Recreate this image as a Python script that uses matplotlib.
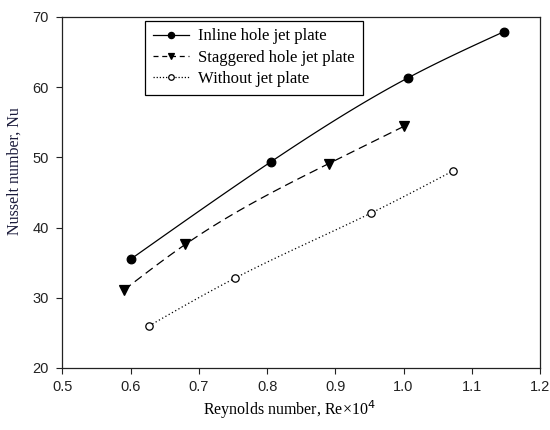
import numpy as np
import matplotlib
matplotlib.use("Agg")
import matplotlib.pyplot as plt

inline_x = [0.600, 0.806, 1.006, 1.147]
inline_y = [35.5, 49.4, 61.3, 67.9]
stag_x = [0.590, 0.680, 0.890, 1.000]
stag_y = [31.1, 37.6, 49.1, 54.4]
wo_x = [0.627, 0.753, 0.953, 1.073]
wo_y = [26.0, 32.8, 42.1, 48.1]
labels = ["Inline hole jet plate", "Staggered hole jet plate", "Without jet plate"]
xticks = [0.5, 0.6, 0.7, 0.8, 0.9, 1.0, 1.1, 1.2]
yticks = [20, 30, 40, 50, 60, 70]


def smooth(x, y, n=100):
    # natural cubic spline through the data points, for drawing the line only
    x = np.asarray(x, float); y = np.asarray(y, float)
    k = len(x); h = np.diff(x)
    A = np.zeros((k, k)); b = np.zeros(k)
    A[0, 0] = A[-1, -1] = 1
    for i in range(1, k - 1):
        A[i, i - 1] = h[i - 1]; A[i, i] = 2 * (h[i - 1] + h[i]); A[i, i + 1] = h[i]
        b[i] = 3 * ((y[i + 1] - y[i]) / h[i] - (y[i] - y[i - 1]) / h[i - 1])
    c = np.linalg.solve(A, b)
    xs = np.linspace(x[0], x[-1], n); ys = np.empty_like(xs)
    for j, xv in enumerate(xs):
        i = min(np.searchsorted(x, xv) - 1, k - 2); i = max(i, 0)
        dx = xv - x[i]
        bb = (y[i + 1] - y[i]) / h[i] - h[i] * (c[i + 1] + 2 * c[i]) / 3
        d = (c[i + 1] - c[i]) / (3 * h[i])
        ys[j] = y[i] + bb * dx + c[i] * dx ** 2 + d * dx ** 3
    return xs, ys


fig = plt.figure(figsize=(5.5, 4.3), dpi=100)
ax = fig.add_axes([0.1136, 0.1442, 0.8682, 0.8163])

serif = "Liberation Serif"
sans = "Liberation Sans"

styles = [
    dict(ls="-", marker="o", mfc="black", ms=6.2, lms=4.5, lls="-"),
    dict(ls=(0, (7, 4)), marker="v", mfc="black", ms=7, lms=5, lls=(0, (4, 3))),
    dict(ls=(0, (1, 2)), marker="o", mfc="white", ms=5.3, lms=4, lls=(0, (1, 1.5))),
]
data = [(inline_x, inline_y), (stag_x, stag_y), (wo_x, wo_y)]
for (x, y), st, lab in zip(data, styles, labels):
    xs, ys = smooth(x, y)
    ax.plot(xs, ys, color="black", lw=0.9, ls=st["ls"])
    ax.plot(x, y, ls="none", marker=st["marker"], mfc=st["mfc"], mec="black",
            ms=st["ms"], mew=0.9)
    ax.plot([], [], color="black", lw=0.9, ls=st["lls"],
            marker=st["marker"], mfc=st["mfc"], mec="black", ms=st["lms"], mew=0.9, label=lab)

ax.set_xlim(0.5, 1.2)
ax.set_ylim(20, 70)
ax.set_xticks(xticks)
ax.set_xticklabels([f"{v:.1f}" for v in xticks], fontfamily=sans, fontsize=10.5, color="#222222")
ax.set_yticks(yticks)
ax.set_yticklabels([str(v) for v in yticks], fontfamily=sans, fontsize=10.5, color="#222222")
ax.tick_params(direction="out", length=4, width=0.8, colors="#222222")
ax.tick_params(axis="y", pad=6)
ax.tick_params(axis="x", pad=5)
for s in ax.spines.values():
    s.set_linewidth(0.9)
    s.set_color("#222222")

ax.set_xlabel("Reynolds number, Re\u00d710$^{4}$", fontfamily=serif, fontsize=11.5)
ax.xaxis.set_label_coords(0.475, -0.085)
ax.set_ylabel("Nusselt number, Nu", fontfamily=serif, fontsize=11.5, color="#1a1a3a")
ax.yaxis.set_label_coords(-0.083, 0.561)

leg = ax.legend(loc="upper left", bbox_to_anchor=(0.173, 0.989), borderaxespad=0,
                prop={"family": serif, "size": 12},
                frameon=True, fancybox=False, edgecolor="black", framealpha=1,
                handlelength=2.2, borderpad=0.45, labelspacing=0.32, handletextpad=0.55)
leg.get_frame().set_linewidth(0.9)

fig.savefig("out.png", dpi=100)
